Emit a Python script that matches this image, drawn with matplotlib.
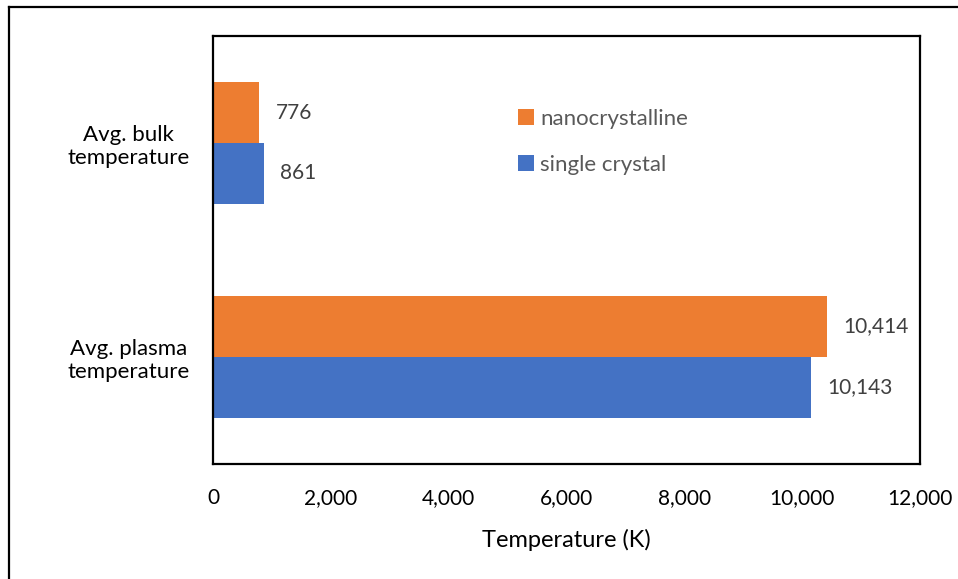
import matplotlib
matplotlib.use('Agg')
import matplotlib.pyplot as plt
from matplotlib.lines import Line2D

categories = ['Avg. plasma\ntemperature', 'Avg. bulk\ntemperature']
series_names = ['nanocrystalline', 'single crystal']
nano_vals = [10414, 776]
single_vals = [10143, 861]
xticks = [0, 2000, 4000, 6000, 8000, 10000, 12000]

orange = '#ED7D31'
blue = '#4472C4'

plt.rcParams['font.family'] = ['Lato', 'DejaVu Sans']

W, H = 958, 579
fig = plt.figure(figsize=(W / 100, H / 100), dpi=100)
ax = fig.add_axes([213 / W, 1 - 464 / H, 707 / W, 428 / H])

# outer frame (only left and top edges visible in the original)
fig.add_artist(Line2D([9 / W, 9 / W], [0, 1 - 7 / H], color='black', lw=1.6,
                      transform=fig.transFigure))
fig.add_artist(Line2D([9 / W, 1], [1 - 7 / H, 1 - 7 / H], color='black', lw=1.6,
                      transform=fig.transFigure))

ypos = range(len(categories))
h = 0.285
bars_n = ax.barh([y + h / 2 for y in ypos], nano_vals, height=h, color=orange,
                 label=series_names[0])
bars_s = ax.barh([y - h / 2 for y in ypos], single_vals, height=h, color=blue,
                 label=series_names[1])

for bars, vals in ((bars_n, nano_vals), (bars_s, single_vals)):
    for b, v in zip(bars, vals):
        ax.annotate(f'{v:,}', (b.get_width(), b.get_y() + b.get_height() / 2),
                    xytext=(12, 0), textcoords='offset points', va='center',
                    ha='left', fontsize=15, color='#404040')

ax.set_xlim(0, 12000)
ax.set_ylim(-0.5, 1.5)
ax.set_xticks(xticks)
ax.set_xticklabels([f'{t:,}' for t in xticks], fontsize=15)
ax.set_yticks(list(ypos))
ax.set_yticklabels(categories, fontsize=16, ha='center', linespacing=1.2)
ax.tick_params(axis='y', length=0, pad=61)
ax.tick_params(axis='x', length=0, pad=17)
ax.set_xlabel('Temperature (K)', fontsize=17, labelpad=15)
for s in ax.spines.values():
    s.set_linewidth(1.6)
    s.set_color('black')

leg = ax.legend(loc='upper left', bbox_to_anchor=(518 / W, 1 - 109 / H),
                bbox_transform=fig.transFigure, frameon=False, fontsize=16,
                handlelength=0.7, handleheight=0.7, handletextpad=0.3,
                labelspacing=1.15, borderpad=0, borderaxespad=0)
for t in leg.get_texts():
    t.set_color('#595959')

fig.savefig('out.png', dpi=100)
